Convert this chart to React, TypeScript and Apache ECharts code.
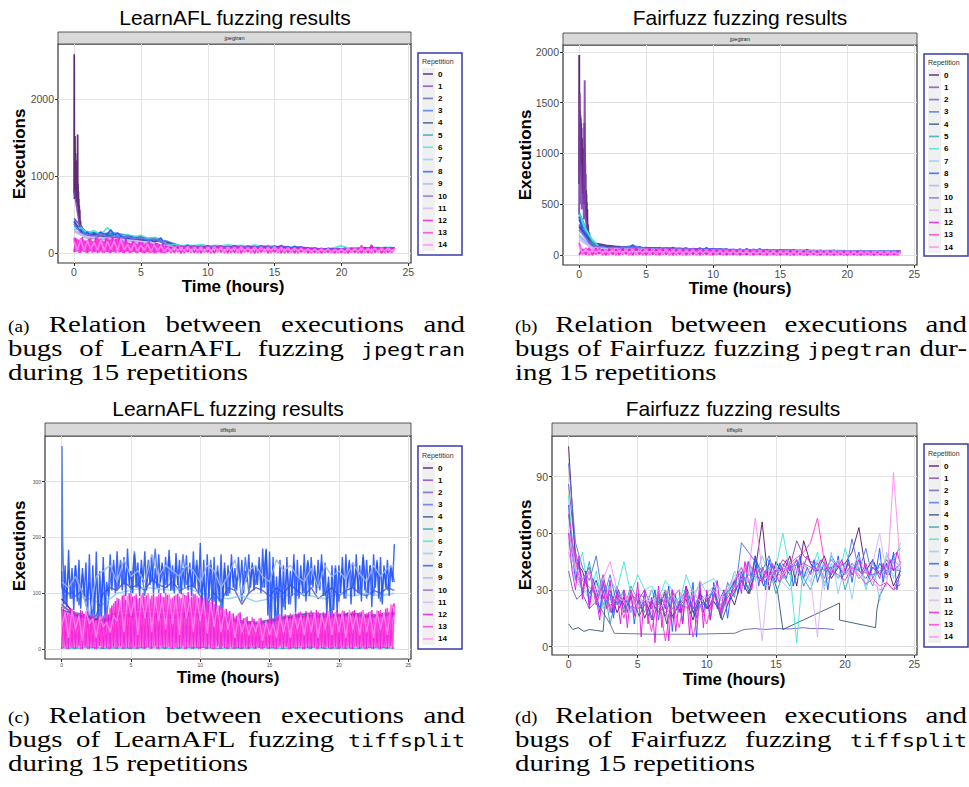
import React, { useEffect, useRef } from "react";
import * as echarts from "echarts";

// ---------------- labels ----------------
const REPETITIONS = ["0", "1", "2", "3", "4", "5", "6", "7", "8", "9", "10", "11", "12", "13", "14"];
const REP_COLORS = [
  "#4B1060", "#7B3FB0", "#5C5CB8", "#4070E0", "#2F4F70", "#1FA5B5", "#3EE5D5", "#8CCBF5",
  "#1F4FFF", "#9DB5F0", "#7F6AE8", "#D5B3F2", "#E010E0", "#FF30D5", "#FF85F0",
];
const PLOT_TITLES = ["LearnAFL fuzzing results", "Fairfuzz fuzzing results", "LearnAFL fuzzing results", "Fairfuzz fuzzing results"];
const STRIP_LABELS = ["jpegtran", "jpegtran", "tiffsplit", "tiffsplit"];
const X_TITLE = "Time (hours)";
const Y_TITLE = "Executions";
const LEGEND_TITLE = "Repetition";
const X_TICKS = [0, 5, 10, 15, 20, 25];
const Y_TICKS_LJ = [0, 1000, 2000];
const Y_TICKS_FJ = [0, 500, 1000, 1500, 2000];
const Y_TICKS_LT = [0, 100, 200, 300];
const Y_TICKS_FT = [0, 30, 60, 90];

// ---------------- (a) LearnAFL / jpegtran ----------------
const LJ0_BURST = [[0, 780], [0.015, 2580], [0.03, 700], [0.045, 1200], [0.06, 800], [0.075, 1520], [0.09, 750], [0.105, 1300], [0.12, 800], [0.135, 1200], [0.15, 700], [0.165, 1100], [0.18, 750], [0.195, 1000], [0.21, 650], [0.225, 950], [0.24, 700], [0.255, 1100], [0.27, 1540], [0.285, 600], [0.3, 900], [0.315, 550], [0.33, 800], [0.345, 500], [0.36, 700], [0.375, 450], [0.39, 620], [0.41, 400], [0.43, 560], [0.45, 330], [0.48, 420], [0.52, 300], [0.56, 350], [0.6, 280]];
const LJ0_LATE = [240, 220, 200, 190, 170, 160, 150, 80, 75, 70, 72, 68, 70, 65, 66, 62, 60, 50, 45, 48, 55, 58, 60, 58];
const LJ1 = [820, 260, 240, 210, 250, 200, 230, 190, 210, 180, 200, 170, 160, 150, 90, 80, 85, 75, 80, 70, 78, 72, 80, 70, 76, 68, 74, 66, 72, 64, 70, 62, 68, 60, 58, 52, 50, 46, 44, 48, 42, 50, 46, 55, 52, 58, 54, 60, 56];
const LJ2 = [450, 250, 230, 240, 210, 190, 170, 120, 85, 80, 78, 75, 72, 74, 70, 68, 66, 60, 52, 48, 50, 55, 58, 62, 60];
const LJ3 = [380, 270, 250, 260, 230, 200, 180, 150, 90, 85, 88, 80, 82, 78, 80, 74, 70, 62, 55, 50, 52, 60, 64, 66, 62];
const LJ4 = [420, 280, 250, 230, 260, 220, 240, 210, 230, 200, 210, 180, 195, 175, 95, 85, 90, 80, 86, 78, 84, 76, 82, 74, 80, 72, 78, 70, 76, 68, 74, 66, 70, 62, 56, 50, 48, 44, 46, 40, 48, 52, 50, 56, 54, 60, 58, 62, 58];
const LJ5 = [350, 300, 240, 270, 220, 250, 230, 200, 215, 185, 190, 160, 170, 150, 88, 92, 84, 95, 80, 90, 86, 94, 78, 88, 82, 90, 76, 86, 80, 84, 72, 78, 70, 64, 58, 52, 55, 48, 50, 45, 52, 58, 54, 60, 66, 62, 68, 64, 60];
const LJ6 = [300, 330, 260, 290, 240, 330, 250, 220, 240, 210, 230, 190, 200, 180, 100, 110, 92, 104, 96, 108, 90, 100, 94, 106, 92, 98, 88, 102, 86, 96, 90, 84, 80, 72, 62, 56, 60, 52, 58, 70, 95, 62, 66, 70, 64, 72, 68, 74, 66];
const LJ7 = [300, 200, 180, 170, 160, 140, 120, 90, 70, 68, 66, 64, 62, 60, 58, 56, 52, 48, 42, 40, 44, 48, 52, 54, 52];
const LJ8 = [
  400, 320, 290, 230, 270, 215, 260, 225,
  275, 210, 250, 300, 235, 260, 220, 200,
  185, 215, 170, 195, 160, 185, 150, 175,
  140, 165, 195, 110, 80, 70, 95, 65,
  85, 75, 100, 70, 90, 65, 85, 72,
  95, 68, 88, 74, 92, 66, 84, 78,
  96, 70, 86, 64, 90, 76, 82, 68,
  94, 72, 88, 66, 90, 74, 98, 70,
  84, 62, 86, 72, 80, 60, 66, 52,
  68, 48, 58, 45, 62, 50, 55, 42,
  50, 60, 45, 58, 48, 62, 55, 70,
  58, 75, 62, 68, 55, 72, 60, 66,
  58,
];
const LJ9 = [280, 190, 180, 170, 160, 130, 115, 85, 72, 68, 64, 66, 62, 60, 58, 55, 50, 44, 40, 38, 42, 46, 50, 52, 50];
const LJ10 = [380, 260, 240, 220, 245, 210, 225, 195, 215, 185, 200, 170, 180, 160, 90, 80, 86, 76, 82, 74, 80, 72, 78, 70, 76, 68, 72, 66, 70, 64, 68, 60, 64, 58, 52, 48, 46, 42, 44, 40, 46, 50, 48, 54, 52, 58, 56, 60, 55];
const LJ11 = [280, 210, 200, 190, 170, 150, 130, 90, 70, 68, 66, 64, 62, 60, 58, 56, 52, 46, 40, 38, 42, 46, 50, 52, 50];
// repetitions 12 and 13: every 7.5 min for the first 7 h, then every 15 min
const LJ12_EARLY = [
  10, 195, 20, 170, 5, 205, 15, 160,
  0, 185, 25, 150, 10, 200, 0, 175,
  20, 160, 5, 190, 15, 170, 0, 210,
  10, 180, 25, 195, 10, 160, 0, 185,
  20, 130, 5, 150, 15, 125, 0, 140,
  10, 135, 0, 120, 15, 145, 5, 115,
  0, 130, 12, 110, 5, 125, 0, 95,
  15,
];
const LJ12_LATE = [
  80, 5, 85,
  0, 78, 12, 90, 5, 82, 0, 88,
  10, 76, 0, 92, 8, 80, 0, 86,
  5, 90, 0, 78, 12, 85, 0, 80,
  8, 88, 0, 76, 10, 84, 0, 90,
  6, 72, 0, 80, 10, 74, 0, 68,
  5, 62, 0, 58, 8, 55, 0, 60,
  4, 52, 0, 64, 6, 58, 0, 70,
  0, 105, 8, 66, 0, 72, 5, 62,
  60,
];
const LJ13_EARLY = [
  200, 15, 180, 0, 190, 20, 165, 5,
  170, 10, 195, 0, 160, 15, 205, 5,
  185, 0, 155, 10, 200, 0, 175, 15,
  165, 0, 190, 5, 170, 0, 150, 10,
  145, 0, 128, 10, 150, 0, 120, 15,
  140, 0, 115, 5, 138, 0, 125, 10,
  118, 0, 130, 8, 100, 0, 92, 5,
  88,
];
const LJ13_LATE = [
  0, 92, 10,
  84, 0, 94, 6, 80, 0, 90, 8,
  82, 0, 88, 10, 95, 0, 80, 5,
  86, 0, 92, 8, 78, 0, 88, 4,
  80, 10, 90, 0, 86, 6, 82, 0,
  76, 5, 70, 0, 78, 8, 62, 0,
  58, 0, 64, 6, 52, 0, 56, 5,
  60, 0, 50, 8, 66, 0, 98, 5,
  64, 0, 70, 10, 62, 0, 68, 4,
  66,
];
const LJ14 = [
  150, 40, 180, 30, 160, 50, 140, 35,
  170, 30, 150, 45, 160, 25, 180, 40,
  110, 30, 120, 25, 100, 35, 115, 20,
  105, 30, 95, 20, 70, 25, 75, 30,
  70, 25, 80, 20, 72, 30, 76, 15,
  74, 20, 82, 25, 70, 15, 78, 30,
  72, 20, 80, 25, 68, 15, 76, 25,
  78, 20, 70, 30, 84, 15, 72, 25,
  68, 20, 64, 25, 58, 15, 52, 20,
  50, 15, 48, 20, 54, 10, 46, 20,
  48, 15, 56, 20, 52, 25, 62, 18,
  56, 20, 60, 15, 58, 25, 64, 20,
  56,
];

// ---------------- (b) Fairfuzz / jpegtran ----------------
const FJ0_BURST = [[0, 700], [0.01, 1970], [0.02, 900], [0.035, 1600], [0.05, 1000], [0.065, 1420], [0.08, 950], [0.095, 1380], [0.11, 900], [0.125, 1350], [0.14, 850], [0.155, 1300], [0.17, 800], [0.185, 1250], [0.2, 750], [0.215, 1150], [0.23, 700], [0.245, 1050], [0.26, 650], [0.275, 950], [0.29, 600], [0.305, 900], [0.32, 550], [0.335, 800], [0.35, 500], [0.365, 1000], [0.38, 600], [0.395, 1300], [0.41, 700], [0.425, 1100], [0.44, 600], [0.455, 900], [0.47, 500], [0.485, 800], [0.5, 450], [0.515, 640], [0.53, 380], [0.545, 600], [0.56, 350], [0.575, 520], [0.59, 300], [0.61, 450], [0.63, 250], [0.66, 300], [0.7, 180], [0.75, 220], [0.8, 150], [0.9, 110]];
const FJ0_LATE = [120, 95, 80, 72, 70, 66, 64, 60, 58, 55, 52, 50, 48, 46, 45, 44, 42, 40, 40, 38, 36, 35, 34, 32];
const FJ1_BURST = [[0, 400], [0.04, 1580], [0.08, 500], [0.14, 900], [0.2, 450], [0.3, 600], [0.36, 350], [0.42, 1720], [0.46, 400], [0.55, 300], [0.65, 200], [0.8, 120]];
const FJ1_LATE = [110, 88, 76, 70, 68, 64, 62, 58, 56, 54, 50, 48, 47, 45, 44, 42, 41, 40, 38, 37, 36, 34, 33, 32];
const FJ2 = [300, 90, 70, 65, 68, 62, 60, 58, 55, 54, 52, 50, 48, 46, 45, 44, 42, 40, 40, 38, 37, 36, 35, 34, 33];
const FJ3 = [350, 110, 75, 70, 90, 64, 62, 60, 58, 56, 54, 50, 48, 47, 46, 44, 43, 42, 40, 39, 38, 37, 36, 35, 34];
const FJ4 = [280, 180, 130, 90, 80, 72, 70, 68, 66, 64, 62, 60, 58, 60, 56, 58, 54, 56, 52, 54, 50, 52, 48, 50, 46, 48, 44, 46, 42, 44, 40, 42, 40, 38, 40, 36, 38, 35, 36, 34, 36, 33, 35, 32, 34, 31, 33, 30, 32];
const FJ5 = [420, 260, 120, 70, 60, 55, 62, 50, 58, 48, 55, 45, 52, 44, 50, 42, 48, 40, 30, 18, 22, 15, 20, 14, 18, 12, 22, 15, 30, 35, 32, 38, 30, 34, 28, 32, 26, 30, 28, 32, 26, 30, 28, 26, 30, 24, 28, 26, 25];
const FJ6 = [400, 250, 150, 80, 70, 60, 72, 55, 66, 50, 62, 48, 58, 46, 56, 44, 20, 25, 18, 22, 16, 20, 15, 24, 18, 22, 14, 20, 45, 40, 42, 38, 44, 36, 40, 34, 38, 32, 36, 30, 34, 40, 32, 30, 36, 28, 32, 30, 28];
const FJ7 = [200, 80, 70, 66, 62, 60, 58, 56, 55, 54, 52, 50, 48, 47, 46, 45, 44, 43, 42, 48, 40, 39, 38, 37, 36];
const FJ8 = [
  380, 250, 200, 120, 90, 75, 85, 60,
  80, 55, 75, 60, 85, 50, 70, 65,
  100, 55, 80, 60, 75, 50, 70, 58,
  72, 48, 68, 55, 74, 50, 66, 58,
  70, 45, 64, 52, 68, 48, 72, 50,
  62, 44, 58, 48, 60, 40, 56, 46,
  58, 42, 62, 40, 55, 45, 60, 38,
  52, 40, 48, 36, 50, 42, 46, 35,
  48, 38, 44, 34, 50, 36, 42, 32,
  46, 34, 40, 30, 44, 36, 38, 28,
  42, 30, 38, 34, 44, 28, 40, 32,
  36, 28, 40, 30, 34, 26, 38, 30,
  35,
];
const FJ9 = [180, 75, 66, 62, 60, 58, 56, 54, 52, 50, 49, 48, 46, 45, 44, 42, 41, 40, 39, 38, 37, 36, 35, 34, 33];
const FJ10 = [250, 85, 72, 68, 75, 64, 62, 60, 58, 56, 54, 52, 50, 48, 46, 44, 42, 41, 40, 39, 38, 37, 36, 35, 34];
const FJ11 = [150, 70, 62, 58, 56, 54, 52, 50, 48, 47, 46, 44, 43, 42, 40, 39, 38, 37, 36, 35, 34, 33, 32, 31, 30];
const FJ12 = [
  0, 60, 5, 70, 0, 65, 10, 55,
  0, 62, 5, 58, 0, 66, 8, 60,
  0, 70, 5, 55, 0, 64, 6, 58,
  0, 60, 4, 66, 0, 56, 5, 62,
  0, 58, 6, 64, 0, 54, 4, 60,
  0, 52, 5, 48, 0, 56, 3, 50,
  0, 46, 4, 52, 0, 44, 5, 48,
  0, 42, 3, 46, 0, 40, 4, 44,
  0, 38, 5, 42, 0, 36, 4, 40,
  0, 36, 3, 40, 0, 34, 4, 38,
  0, 34, 3, 38, 0, 32, 4, 36,
  0, 30, 3, 34, 0, 32, 2, 36,
  30,
];
const FJ13 = [
  120, 5, 68, 0, 58, 6, 64, 0,
  55, 4, 64, 0, 60, 5, 56, 0,
  62, 3, 58, 0, 68, 4, 54, 0,
  64, 5, 58, 0, 60, 3, 56, 0,
  56, 4, 62, 0, 58, 5, 52, 0,
  50, 3, 54, 0, 46, 4, 52, 0,
  48, 5, 44, 0, 50, 3, 42, 0,
  44, 4, 40, 0, 46, 3, 42, 0,
  40, 3, 36, 0, 42, 4, 38, 0,
  38, 4, 34, 0, 36, 2, 40, 0,
  34, 3, 36, 0, 38, 2, 34, 0,
  32, 3, 30, 0, 34, 2, 36, 0,
  38,
];
const FJ14 = [
  90, 20, 55, 15, 50, 25, 45, 20,
  48, 15, 52, 20, 46, 18, 50, 15,
  50, 12, 46, 20, 52, 15, 44, 18,
  48, 15, 52, 12, 46, 18, 50, 10,
  44, 15, 48, 12, 42, 18, 46, 10,
  40, 12, 44, 10, 38, 15, 42, 10,
  38, 12, 40, 8, 36, 12, 38, 10,
  35, 10, 38, 8, 34, 12, 36, 8,
  32, 10, 34, 8, 30, 12, 33, 8,
  30, 8, 32, 10, 28, 12, 30, 8,
  28, 10, 30, 8, 32, 12, 28, 10,
  30, 8, 28, 10, 32, 12, 30, 10,
  32,
];

// ---------------- (c) LearnAFL / tiffsplit ----------------
const LT0 = [90, 60, 55, 50, 58, 60, 62, 60, 58, 62, 60, 55, 50, 48, 45, 50, 55, 58, 60, 58, 60, 62, 58, 60, 62];
const LT1 = [80, 58, 54, 48, 55, 58, 60, 58, 56, 60, 58, 52, 48, 46, 44, 48, 52, 56, 58, 56, 58, 60, 56, 58, 60];
const LT2 = [110, 100, 95, 105, 55, 60, 100, 110, 105, 120, 110, 115, 105, 125, 115, 110, 120, 105, 110, 115, 95, 80, 100, 85, 110, 105, 80, 100, 110, 105, 95, 110, 100, 115, 105, 95, 110, 90, 100, 110, 95, 105, 110, 100, 95, 105, 100, 110, 105];
const LT3_BURST = [[0, 110], [0.03, 364], [0.07, 200], [0.12, 150]];
const LT3 = [
  80, 140, 90, 150, 78, 135, 85, 120,
  55, 130, 52, 145, 58, 120, 150, 105,
  160, 115, 150, 100, 175, 110, 145, 95,
  160, 120, 180, 100, 150, 115, 165, 105,
  150, 100, 170, 115, 140, 110, 160, 100,
  120, 65, 160, 85, 150, 70, 145, 95,
  155, 105, 140, 85, 165, 100, 150, 115,
  150, 110, 180, 55, 150, 45, 140, 75,
  145, 80, 155, 95, 130, 100, 160, 115,
  140, 110, 155, 95, 120, 55, 150, 85,
  145, 90, 155, 110, 140, 100, 170, 90,
  150, 95, 160, 85, 140, 105, 150, 120,
];
const LT4 = [70, 62, 58, 52, 60, 62, 64, 62, 60, 64, 62, 58, 52, 50, 46, 52, 56, 60, 64, 62, 60, 64, 60, 62, 64];
const LT5 = [2, 1, 3, 1, 2, 1, 3, 2, 1, 2, 3, 1, 2, 1, 3, 2, 1, 2, 3, 1, 2, 1, 2, 3, 1];
const LT6 = [70, 2, 1, 3, 2, 1, 2, 3, 1, 2, 3, 1, 2, 3, 1, 2, 1, 3, 2, 1, 2, 92, 30, 2, 1, 3, 2, 1, 2, 3, 1, 2, 1, 3, 2, 1, 2, 3, 1, 2, 3, 1, 2, 1, 3, 2, 1, 2, 3];
const LT7 = [100, 95, 90, 80, 100, 105, 110, 108, 105, 110, 100, 95, 90, 95, 85, 90, 95, 100, 95, 90, 100, 95, 100, 95, 100];
// repetition 8, 12, 13: every 7.5 min
const LT8 = [
  140, 80, 150, 75, 178, 90, 145, 70,
  150, 85, 160, 72, 145, 95, 155, 60,
  170, 55, 150, 60, 175, 52, 140, 58,
  165, 55, 120, 95, 170, 105, 160, 100,
  175, 110, 150, 105, 165, 95, 180, 115,
  140, 100, 170, 110, 155, 95, 160, 120,
  175, 105, 150, 115, 168, 100, 145, 110,
  170, 120, 155, 100, 165, 110, 178, 105,
  150, 100, 172, 115, 160, 98, 145, 110,
  168, 105, 155, 95, 175, 110, 150, 100,
  190, 75, 160, 65, 170, 90, 150, 70,
  165, 60, 140, 85, 170, 75, 155, 95,
  150, 100, 170, 110, 145, 105, 165, 115,
  160, 100, 140, 120, 170, 110, 155, 105,
  150, 115, 165, 100, 180, 110, 178, 60,
  175, 45, 165, 50, 130, 60, 160, 55,
  150, 70, 165, 80, 140, 95, 170, 65,
  160, 90, 150, 100, 170, 85, 155, 95,
  165, 110, 150, 100, 160, 105, 170, 95,
  155, 60, 130, 55, 150, 70, 145, 65,
  150, 100, 165, 90, 170, 110, 160, 80,
  155, 95, 170, 100, 150, 85, 165, 105,
  160, 100, 150, 75, 170, 110, 155, 90,
  165, 80, 150, 110, 160, 95, 145, 120,
  188,
];
const LT9 = [120, 110, 130, 100, 60, 130, 140, 150, 120, 160, 130, 140, 120, 170, 130, 150, 140, 130, 150, 140, 120, 150, 140, 110, 130, 160, 100, 140, 150, 130, 120, 160, 140, 150, 130, 120, 145, 110, 150, 130, 140, 125, 155, 135, 120, 150, 130, 145, 150];
const LT10 = [75, 65, 60, 55, 65, 70, 72, 70, 68, 72, 70, 62, 55, 50, 48, 52, 58, 62, 64, 60, 62, 64, 60, 62, 66];
const LT11 = [60, 55, 50, 45, 55, 60, 62, 60, 58, 60, 58, 55, 50, 45, 42, 46, 50, 54, 56, 54, 56, 58, 54, 56, 60];
const LT12 = [
  0, 72, 3, 66, 0, 74, 2, 68,
  0, 64, 4, 70, 0, 62, 3, 66,
  0, 58, 2, 54, 0, 60, 5, 52,
  0, 56, 2, 62, 0, 78, 3, 86,
  0, 90, 4, 96, 0, 88, 2, 100,
  0, 94, 3, 98, 0, 92, 2, 101,
  0, 96, 3, 90, 0, 99, 4, 94,
  0, 100, 2, 93, 0, 97, 3, 90,
  0, 95, 2, 99, 0, 91, 4, 97,
  0, 102, 3, 94, 0, 98, 2, 92,
  0, 90, 3, 95, 0, 86, 2, 88,
  0, 82, 4, 78, 0, 75, 2, 72,
  0, 68, 3, 64, 0, 60, 2, 66,
  0, 55, 3, 58, 0, 50, 4, 54,
  0, 48, 2, 56, 0, 45, 3, 52,
  0, 58, 2, 50, 0, 60, 4, 55,
  0, 62, 3, 56, 0, 60, 2, 64,
  0, 66, 4, 60, 0, 68, 2, 62,
  0, 64, 3, 70, 0, 62, 2, 66,
  0, 68, 2, 60, 0, 64, 3, 70,
  0, 62, 3, 68, 0, 66, 2, 60,
  0, 70, 4, 64, 0, 67, 3, 62,
  0, 66, 2, 70, 0, 60, 3, 68,
  0, 64, 2, 72, 0, 66, 4, 76,
  82,
];
const LT13 = [
  76, 2, 70, 0, 64, 3, 72, 0,
  66, 2, 60, 0, 68, 4, 63, 0,
  56, 3, 60, 0, 52, 2, 55, 0,
  60, 3, 66, 0, 74, 2, 82, 0,
  92, 3, 86, 0, 98, 2, 94, 0,
  100, 2, 95, 0, 90, 3, 97, 0,
  93, 2, 100, 0, 96, 3, 91, 0,
  98, 4, 94, 0, 101, 2, 96, 0,
  92, 3, 97, 0, 94, 2, 100, 0,
  96, 2, 90, 0, 99, 3, 95, 0,
  93, 2, 88, 0, 91, 3, 84, 0,
  80, 2, 76, 0, 74, 4, 70, 0,
  66, 3, 62, 0, 58, 2, 64, 0,
  52, 2, 56, 0, 48, 3, 57, 0,
  46, 3, 54, 0, 50, 2, 44, 0,
  56, 2, 52, 0, 58, 3, 62, 0,
  60, 3, 58, 0, 64, 2, 59, 0,
  63, 2, 67, 0, 61, 3, 65, 0,
  69, 2, 63, 0, 67, 4, 61, 0,
  65, 3, 62, 0, 69, 2, 66, 0,
  64, 2, 69, 0, 61, 3, 65, 0,
  68, 3, 62, 0, 66, 2, 70, 0,
  64, 2, 67, 0, 62, 3, 69, 0,
  70, 3, 65, 0, 74, 2, 78, 0,
  80,
];
const LT14 = [
  40, 65, 20, 70, 35, 60, 15, 68,
  45, 55, 20, 58, 40, 48, 30, 60,
  50, 88, 30, 95, 60, 90, 25, 96,
  55, 100, 30, 94, 50, 92, 35, 98,
  45, 94, 25, 100, 55, 90, 30, 96,
  50, 90, 28, 84, 40, 78, 30, 70,
  35, 64, 20, 58, 30, 52, 25, 48,
  30, 55, 15, 50, 25, 46, 20, 60,
  30, 58, 20, 64, 35, 60, 25, 62,
  30, 66, 20, 62, 35, 68, 25, 64,
  30, 66, 20, 70, 35, 62, 25, 68,
  30, 64, 20, 68, 35, 66, 25, 80,
  70,
];

// ---------------- (d) Fairfuzz / tiffsplit ----------------
const FT0 = [106, 45, 40, 28, 35, 22, 30, 18, 26, 20, 28, 15, 24, 18, 30, 16, 22, 25, 14, 28, 20, 24, 18, 30, 22, 35, 28, 40, 66, 30, 45, 38, 48, 32, 56, 44, 40, 48, 36, 42, 44, 50, 63, 40, 46, 38, 44, 32, 40];
const FT1 = [86, 50, 35, 42, 25, 38, 20, 32, 18, 28, 24, 30, 20, 26, 16, 30, 22, 28, 18, 25, 20, 32, 15, 28, 35, 42, 30, 48, 36, 44, 40, 46, 42, 56, 48, 45, 44, 40, 46, 42, 38, 44, 40, 36, 42, 38, 46, 40, 44];
const FT2_PAIRS = [[0, 40], [0.3, 30], [0.6, 25], [1, 28], [1.5, 20], [2, 24], [2.5, 18], [3, 12], [3.3, 7], [6, 6.5], [9, 6.5], [12, 7], [12.7, 9], [13.5, 9.5], [14.2, 9], [15, 9.5], [16, 9.3], [17, 10], [17.5, 9.5], [18.5, 9.5], [19.2, 9]];
const FT3 = [97, 55, 42, 35, 48, 25, 38, 22, 30, 18, 28, 26, 14, 30, 22, 26, 18, 32, 20, 28, 24, 30, 16, 34, 26, 55, 50, 45, 40, 48, 36, 44, 38, 46, 32, 40, 44, 36, 48, 42, 38, 57, 40, 52, 36, 44, 40, 48, 52];
const FT4_PAIRS = [[0, 12], [0.3, 9], [0.7, 10], [1.1, 8], [1.5, 9], [2, 8.5], [2.5, 8], [2.7, 28], [3.1, 18], [3.6, 30], [4.1, 20], [4.6, 27], [5.1, 16], [5.6, 24], [6.1, 14], [6.6, 26], [7.1, 12], [7.6, 28], [8.1, 18], [8.6, 30], [9.1, 16], [9.6, 26], [10.1, 20], [10.6, 28], [11.1, 14], [11.6, 24], [12.1, 30], [12.6, 38], [13.1, 28], [13.6, 44], [14.1, 32], [14.6, 40], [15.1, 30], [15.5, 9], [19.6, 23], [19.6, 14], [22.2, 10], [22.3, 19.5], [22.5, 27], [23, 34], [23.5, 30], [24, 33]];
const FT5 = [70, 40, 30, 45, 22, 35, 12, 28, 20, 32, 25, 18, 30, 22, 28, 15, 24, 30, 20, 26, 22, 32, 18, 28, 34, 40, 30, 46, 35, 42, 28, 38, 32, 44, 36, 30, 42, 34, 38, 46, 30, 42, 36, 40, 32, 44, 38, 46, 42];
const FT6 = [80, 35, 50, 25, 40, 20, 35, 30, 45, 28, 38, 30, 32, 25, 35, 30, 22, 38, 28, 32, 34, 36, 30, 28, 40, 32, 45, 35, 48, 38, 42, 60, 40, 2, 45, 38, 50, 32, 44, 36, 52, 40, 46, 30, 42, 38, 48, 44, 55];
const FT7 = [60, 38, 30, 26, 34, 22, 30, 25, 28, 20, 26, 22, 30, 18, 24, 28, 20, 30, 24, 35, 28, 32, 26, 30, 38, 34, 30, 40, 36, 32, 38, 34, 30, 36, 40, 34, 46, 30, 50, 28, 44, 25, 48, 32, 46, 24, 50, 36, 45];
const FT8 = [
  75, 50, 35, 45, 28, 40, 22, 36,
  30, 18, 34, 24, 28, 15, 30, 22,
  26, 18, 30, 12, 24, 20, 28, 16,
  22, 30, 14, 26, 20, 32, 8, 28,
  30, 12, 32, 20, 34, 5, 30, 18,
  28, 14, 34, 20, 26, 30, 15, 28,
  35, 28, 40, 30, 45, 35, 48, 32,
  42, 30, 46, 38, 34, 44, 40, 36,
  45, 32, 40, 48, 36, 42, 38, 46,
  34, 40, 44, 30, 42, 38, 48, 36,
  40, 46, 34, 44, 50, 38, 42, 36,
  46, 40, 52, 34, 44, 38, 50, 30,
  42,
];
const FT9 = [50, 35, 30, 28, 25, 30, 22, 26, 24, 20, 28, 22, 26, 24, 30, 20, 26, 22, 28, 24, 26, 30, 24, 28, 32, 36, 34, 40, 38, 35, 42, 38, 44, 40, 36, 42, 38, 45, 40, 36, 42, 38, 44, 40, 38, 42, 36, 44, 40];
const FT10 = [60, 35, 28, 25, 22, 20, 24, 18, 22, 20, 24, 22, 30, 38, 36, 40, 42, 44, 40, 42, 44, 40, 38, 42, 40];
const FT11 = [55, 40, 32, 28, 22, 30, 20, 26, 24, 18, 28, 22, 26, 20, 24, 28, 22, 26, 30, 24, 28, 32, 26, 30, 36, 40, 34, 38, 3, 42, 36, 40, 44, 38, 42, 36, 5, 44, 40, 46, 38, 42, 48, 40, 44, 60, 38, 46, 42];
const FT12 = [
  60, 40, 30, 48, 25, 38, 20, 32,
  26, 14, 30, 20, 35, 18, 28, 12,
  30, 10, 28, 16, 34, 5, 30, 12,
  26, 2, 32, 10, 28, 3, 30, 8,
  24, 12, 32, 6, 28, 15, 34, 10,
  30, 14, 26, 35, 18, 30, 22, 28,
  32, 40, 28, 45, 35, 30, 42, 36,
  34, 40, 36, 44, 38, 34, 42, 46,
  40, 44, 46, 38, 42, 48, 44, 40,
  42, 46, 44, 40, 38, 44, 42, 46,
  40, 44, 38, 42, 46, 40, 44, 38,
  42, 40, 36, 44, 38, 46, 40, 50,
  44,
];
const FT13 = [70, 45, 30, 40, 22, 35, 18, 28, 15, 30, 20, 24, 8, 28, 3, 25, 10, 30, 5, 22, 12, 28, 18, 26, 30, 35, 45, 38, 42, 35, 40, 36, 44, 47, 50, 55, 68, 45, 40, 38, 35, 42, 38, 33, 36, 32, 34, 30, 38];
const FT14 = [62, 42, 35, 40, 28, 36, 45, 30, 24, 28, 20, 26, 18, 30, 22, 26, 30, 20, 28, 24, 26, 30, 25, 32, 35, 42, 38, 68, 40, 36, 42, 38, 45, 40, 44, 38, 42, 36, 40, 44, 38, 42, 36, 40, 34, 30, 32, 92, 42];

// samples recorded at a regular interval between t0 and t1 (hours)
const spread = (vals: number[], t0: number, t1: number) =>
  vals.map((v, i) => [t0 + ((t1 - t0) * i) / (vals.length - 1), v]);
const day = (vals: number[]) => spread(vals, 0, 24);

const LJ_SERIES = [
  [...LJ0_BURST, ...spread(LJ0_LATE, 0.75, 24)],
  day(LJ1), day(LJ2), day(LJ3), day(LJ4), day(LJ5), day(LJ6), day(LJ7),
  day(LJ8), day(LJ9), day(LJ10), day(LJ11),
  [...spread(LJ12_EARLY, 0, 7), ...spread(LJ12_LATE, 7.25, 24)],
  [...spread(LJ13_EARLY, 0, 7), ...spread(LJ13_LATE, 7.25, 24)],
  day(LJ14),
];
const FJ_SERIES = [
  [...FJ0_BURST, ...spread(FJ0_LATE, 1, 24)],
  [...FJ1_BURST, ...spread(FJ1_LATE, 1, 24)],
  day(FJ2), day(FJ3), day(FJ4), day(FJ5), day(FJ6), day(FJ7),
  day(FJ8), day(FJ9), day(FJ10), day(FJ11), day(FJ12), day(FJ13), day(FJ14),
];
const LT_SERIES = [
  day(LT0), day(LT1), day(LT2), [...LT3_BURST, ...spread(LT3, 0.25, 24)],
  day(LT4), day(LT5), day(LT6), day(LT7), day(LT8), day(LT9), day(LT10),
  day(LT11), day(LT12), day(LT13), day(LT14),
];
const FT_SERIES = [
  day(FT0), day(FT1), FT2_PAIRS, day(FT3), FT4_PAIRS, day(FT5), day(FT6), day(FT7),
  day(FT8), day(FT9), day(FT10), day(FT11), day(FT12), day(FT13), day(FT14),
];
const PANEL_DATA = [LJ_SERIES, FJ_SERIES, LT_SERIES, FT_SERIES];
const PANEL_Y_TICKS = [Y_TICKS_LJ, Y_TICKS_FJ, Y_TICKS_LT, Y_TICKS_FT];

// ---------------- layout ----------------
const SANS = '"Liberation Sans", Arial, Helvetica, sans-serif';
const LAYOUT = [
  { left: 58, top: 44, width: 353, height: 219, yMin: -130, yMax: 2714, tick: 10.5, lw: 1.7, lgLeft: 423, lgTop: 69, gap: 2.21, box: [418, 53, 44, 202], title: [235, 17], yT: [19, 154], xT: [233, 286.5], strip: 12 },
  { left: 563, top: 45, width: 354, height: 220, yMin: -98, yMax: 2068, tick: 10.5, lw: 1.9, lgLeft: 929, lgTop: 70, gap: 2.29, box: [924, 54, 44, 202], title: [740, 17], yT: [525, 155], xT: [740, 288.5], strip: 12 },
  { left: 45, top: 436, width: 366, height: 223, yMin: -18, yMax: 382, tick: 5, lw: 1.4, lgLeft: 423, lgTop: 463, gap: 2.21, box: [418, 446, 44, 203], title: [228, 408], yT: [19, 546], xT: [228, 677], strip: 13 },
  { left: 552, top: 436, width: 365, height: 219, yMin: -4.5, yMax: 111.5, tick: 10.5, lw: 1, lgLeft: 929, lgTop: 461, gap: 2.21, box: [924, 444, 44, 203], title: [733, 408], yT: [525, 545], xT: [734, 679], strip: 13 },
];

const CAPTIONS = [
  { left: 8, top: 312, width: 457, label: "(a)", first: "Relation between executions and", pre: "bugs of LearnAFL fuzzing ", code: "jpegtran", post: "", last: "during 15 repetitions" },
  { left: 515, top: 312, width: 452, label: "(b)", first: "Relation between executions and", pre: "bugs of Fairfuzz fuzzing ", code: "jpegtran", post: " dur-", last: "ing 15 repetitions" },
  { left: 8, top: 703, width: 457, label: "(c)", first: "Relation between executions and", pre: "bugs of LearnAFL fuzzing ", code: "tiffsplit", post: "", last: "during 15 repetitions" },
  { left: 515, top: 703, width: 452, label: "(d)", first: "Relation between executions and", pre: "bugs of Fairfuzz fuzzing ", code: "tiffsplit", post: "", last: "during 15 repetitions" },
];

function buildOption() {
  const grid: any[] = [];
  const xAxis: any[] = [];
  const yAxis: any[] = [];
  const legend: any[] = [];
  const series: any[] = [];
  const graphic: any[] = [];
  const plain = (v: number) => String(v);

  LAYOUT.forEach((P, p) => {
    grid.push({ left: P.left, top: P.top, width: P.width, height: P.height, show: true, borderColor: "#333", borderWidth: 1.2, backgroundColor: "#fff" });
    xAxis.push({
      type: "value", gridIndex: p, min: -1.2, max: 25.2,
      axisLine: { show: false, onZero: false },
      axisTick: { show: true, customValues: X_TICKS, length: 3, lineStyle: { color: "#333" } },
      axisLabel: { customValues: X_TICKS, formatter: plain, fontSize: P.tick, color: "#4D4D4D", margin: 3, fontFamily: SANS },
      splitLine: { show: true, lineStyle: { color: "#E3E3E3", width: 1 } },
    });
    yAxis.push({
      type: "value", gridIndex: p, min: P.yMin, max: P.yMax,
      axisLine: { show: false, onZero: false },
      axisTick: { show: true, customValues: PANEL_Y_TICKS[p], length: 3, lineStyle: { color: "#333" } },
      axisLabel: { customValues: PANEL_Y_TICKS[p], formatter: plain, fontSize: P.tick, color: "#4D4D4D", margin: 4, fontFamily: SANS },
      splitLine: { show: true, lineStyle: { color: "#E3E3E3", width: 1 } },
    });
    legend.push({
      show: true, orient: "vertical", left: P.lgLeft, top: P.lgTop, padding: 0, itemGap: P.gap,
      itemWidth: 10, itemHeight: 10, data: REPETITIONS, selectedMode: false,
      icon: "path://M0,0 H10 V1.7 H0 Z",
      itemStyle: { opacity: 0.75 },
      textStyle: { fontSize: 8, fontWeight: "bold", color: "#000", fontFamily: SANS, lineHeight: 10 },
    });
    PANEL_DATA[p].forEach((data, k) => {
      series.push({
        name: REPETITIONS[k], type: "line", xAxisIndex: p, yAxisIndex: p, data,
        symbol: "none", showSymbol: false, silent: true,
        lineStyle: { width: P.lw, color: REP_COLORS[k], opacity: 0.88 },
        itemStyle: { color: REP_COLORS[k] },
        emphasis: { disabled: true },
      });
    });

    // strip
    graphic.push({ type: "rect", shape: { x: P.left, y: P.top - P.strip, width: P.width, height: P.strip }, style: { fill: "#D9D9D9", stroke: "#333", lineWidth: 0.8 } });
    graphic.push({ type: "text", x: P.left + P.width / 2, y: P.top - P.strip / 2, style: { text: STRIP_LABELS[p], fontSize: 5.5, fill: "#1A1A1A", align: "center", verticalAlign: "middle", fontFamily: SANS } });
    // titles
    graphic.push({ type: "text", x: P.title[0], y: P.title[1], style: { text: PLOT_TITLES[p], fontSize: 21, fill: "#000", align: "center", verticalAlign: "middle", fontFamily: SANS } });
    graphic.push({ type: "text", x: P.xT[0], y: P.xT[1], style: { text: X_TITLE, fontSize: 17, fontWeight: "bold", fill: "#000", align: "center", verticalAlign: "middle", fontFamily: SANS } });
    graphic.push({ type: "text", x: P.yT[0], y: P.yT[1], rotation: Math.PI / 2, style: { text: Y_TITLE, fontSize: 17, fontWeight: "bold", fill: "#000", align: "center", verticalAlign: "middle", fontFamily: SANS } });
    // legend frame
    const [bx, by, bw, bh] = P.box;
    graphic.push({ type: "rect", shape: { x: bx, y: by, width: bw, height: bh }, style: { fill: "#fff", stroke: "#3A3AAA", lineWidth: 1.5 } });
    graphic.push({ type: "rect", shape: { x: P.lgLeft - 1, y: P.lgTop - 1, width: 13, height: 14 * (10 + P.gap) + 12 }, style: { fill: "#F0F0F0" } });
    graphic.push({ type: "text", x: P.lgLeft - 1, y: P.lgTop - 8, style: { text: LEGEND_TITLE, fontSize: 7, fill: "#333", align: "left", verticalAlign: "middle", fontFamily: SANS } });
  });

  return {
    animation: false,
    backgroundColor: "#fff",
    textStyle: { fontFamily: SANS },
    grid, xAxis, yAxis, legend, series, graphic,
  };
}

const SX = 1.2;

function Caption({ c }: { c: any }) {
  const line: any = { height: 24, lineHeight: "24px", whiteSpace: "nowrap" };
  const just: any = { height: 24, lineHeight: "24px", textAlign: "justify", textAlignLast: "justify" };
  return (
    <div
      style={{
        position: "absolute", left: c.left, top: c.top, width: c.width / SX,
        transform: `scaleX(${SX})`, transformOrigin: "0 0",
        fontFamily: '"Liberation Serif", "Times New Roman", serif', fontSize: 24, color: "#000",
      }}
    >
      <div style={just}>
        <span style={{ fontSize: 16 }}>{c.label}</span> {c.first}
      </div>
      <div style={just}>
        {c.pre}
        <span style={{ fontFamily: '"DejaVu Sans Mono", "Liberation Mono", monospace', fontSize: 18 }}>{c.code}</span>
        {c.post}
      </div>
      <div style={line}>{c.last}</div>
    </div>
  );
}

export default function App() {
  const ref = useRef<HTMLDivElement>(null);
  useEffect(() => {
    if (!ref.current) return;
    const chart = echarts.init(ref.current, null, { renderer: "svg" });
    chart.setOption(buildOption() as any);
    return () => chart.dispose();
  }, []);
  return (
    <div style={{ position: "absolute", left: 0, top: 0, width: 969, height: 787, background: "#fff", overflow: "hidden" }}>
      <div ref={ref} style={{ position: "absolute", left: 0, top: 0, width: 969, height: 787 }} />
      {CAPTIONS.map((c) => (
        <Caption key={c.label} c={c} />
      ))}
    </div>
  );
}
